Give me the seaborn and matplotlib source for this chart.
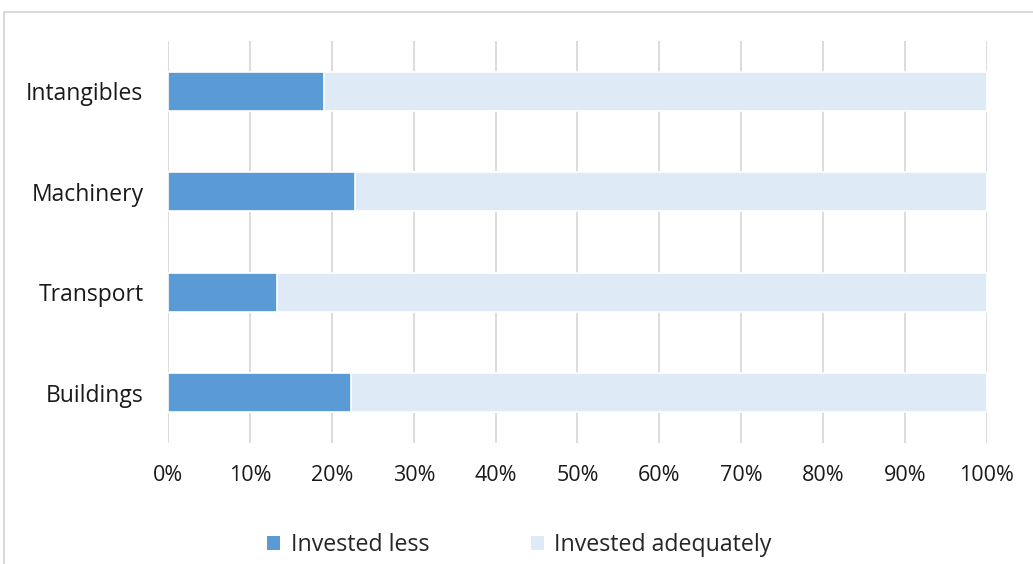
import numpy as np
import pandas as pd
import seaborn as sns
import matplotlib.pyplot as plt
from matplotlib.patches import Patch
from matplotlib.lines import Line2D

# data (share of firms, %)
categories = ['Intangibles', 'Machinery', 'Transport', 'Buildings']
invested_less = [19.0, 22.8, 13.3, 22.3]
invested_adequately = [81.0, 77.2, 86.7, 77.7]
series_names = ['Invested less', 'Invested adequately']
x_ticks = [0, 10, 20, 30, 40, 50, 60, 70, 80, 90, 100]

dark_blue = '#5B9BD5'
light_blue = '#DEEAF6'
grid_grey = '#D9D9D9'

sns.set_style('white')
plt.rcParams['font.family'] = ['Open Sans', 'DejaVu Sans']

df = pd.DataFrame({'category': categories,
                   'less': invested_less,
                   'adequate': invested_adequately})
df['total'] = df['less'] + df['adequate']

fig = plt.figure(figsize=(10.33, 5.64), dpi=100)
ax = fig.add_axes([0.1631, 0.2145, 0.955 - 0.1631, 0.9273 - 0.2145])

# gridlines under the bars
for t in x_ticks:
    ax.axvline(t, color=grid_grey, lw=1.3, zorder=0)

# stacked bars: full bar in light colour, first segment on top
sns.barplot(data=df, y='category', x='total', orient='h', color=light_blue,
            saturation=1, width=0.385, edgecolor='white', linewidth=1.2,
            ax=ax, zorder=2)
sns.barplot(data=df, y='category', x='less', orient='h', color=dark_blue,
            saturation=1, width=0.385, edgecolor='white', linewidth=1.2,
            ax=ax, zorder=3)

ax.set_xlim(0, 100)
ax.set_ylim(3.5, -0.5)
ax.set_xticks(x_ticks)
ax.set_xticklabels([f'{t}%' for t in x_ticks])
ax.set_xlabel('')
ax.set_ylabel('')
ax.tick_params(axis='x', length=0, pad=16, labelsize=15.5, colors='#1a1a1a')
ax.tick_params(axis='y', length=0, pad=18, labelsize=16.5, colors='#1a1a1a')
for s in ax.spines.values():
    s.set_visible(False)

handles = [Patch(facecolor=dark_blue, edgecolor='none'),
           Patch(facecolor=light_blue, edgecolor='none')]
fig.legend(handles, series_names, loc='center', bbox_to_anchor=(0.503, 0.033),
           ncol=2, frameon=False, fontsize=16.7, handlelength=0.55,
           handleheight=0.55, handletextpad=0.45, columnspacing=4.4)

# outer chart frame (only top and left edges are visible)
fig.add_artist(Line2D([4 / 1033, 4 / 1033], [0, 1 - 12 / 564],
                      transform=fig.transFigure, color=grid_grey, lw=1.5))
fig.add_artist(Line2D([4 / 1033, 1], [1 - 12 / 564, 1 - 12 / 564],
                      transform=fig.transFigure, color=grid_grey, lw=1.5))

fig.savefig('out.png', dpi=100)
